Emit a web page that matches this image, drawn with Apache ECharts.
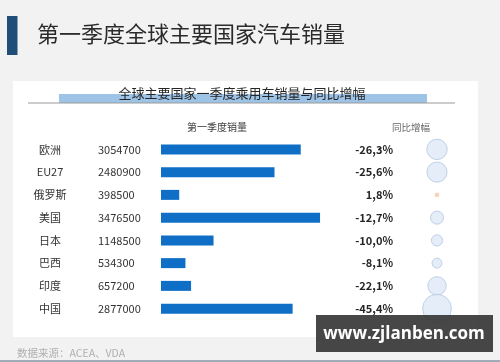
<!DOCTYPE html>
<html><head><meta charset="utf-8">
<script src="https://cdn.jsdelivr.net/npm/echarts@6/dist/echarts.min.js"></script>
<style>html,body{margin:0;padding:0;background:#f2f2f2}#c{width:500px;height:362px}</style>
</head><body><div id="c"></div>
<script>
const categories = ['欧洲','EU27','俄罗斯','美国','日本','巴西','印度','中国'];
const sales = [3054700,2480900,398500,3476500,1148500,534300,657200,2877000];
const growth = [-26.3,-25.6,1.8,-12.7,-10.0,-8.1,-22.1,-45.4];
const mainTitle = '第一季度全球主要国家汽车销量';
const chartTitle = '全球主要国家一季度乘用车销量与同比增幅';
const salesHeader = '第一季度销量';
const growthHeader = '同比增幅';
const sourceText = '数据来源：ACEA、VDA';
const watermark = 'www.zjlanben.com';

const FONT = '"Noto Sans CJK SC", "Noto Sans", sans-serif';
const fmtPct = v => v.toFixed(1).replace('.', ',') + '%';

const chart = echarts.init(document.getElementById('c'), null, {renderer: 'canvas'});
chart.setOption({
  backgroundColor: '#f2f2f2',
  animation: false,
  textStyle: {fontFamily: FONT},
  grid: [
    {left: 161, top: 138, width: 183, height: 182, containLabel: false},
    {left: 420, top: 138, width: 34, height: 182, containLabel: false}
  ],
  xAxis: [
    {type: 'value', gridIndex: 0, min: 0, max: 4000000, show: false},
    {type: 'value', gridIndex: 1, min: 0, max: 1, show: false}
  ],
  yAxis: [
    {type: 'category', gridIndex: 0, data: categories, inverse: true,
     axisLine: {show: false}, axisTick: {show: false}, splitLine: {show: false},
     axisLabel: {align: 'center', margin: 111, fontSize: 11, color: '#333', fontFamily: FONT}},
    {type: 'category', gridIndex: 1, data: categories, inverse: true,
     axisLine: {show: false}, axisTick: {show: false}, splitLine: {show: false},
     axisLabel: {align: 'right', margin: 27, fontSize: 11, fontWeight: 'bold', color: '#262626', fontFamily: FONT,
       formatter: (v, i) => fmtPct(growth[i])}}
  ],
  series: [
    {type: 'bar', xAxisIndex: 0, yAxisIndex: 0, data: sales, barWidth: 10,
     itemStyle: {color: '#0f6fc6'},
     label: {show: true, position: [-63, 5], align: 'left', verticalAlign: 'middle',
       fontSize: 11, color: '#333', fontFamily: FONT, formatter: p => String(sales[p.dataIndex])}},
    {type: 'scatter', xAxisIndex: 1, yAxisIndex: 1,
     data: growth.map((g, i) => ({
       value: [0.5, i],
       itemStyle: g >= 0 ? {color: '#f8cbad', borderColor: '#f4b183', borderWidth: 0.5}
                         : {color: '#dde9f6', borderColor: '#b4c7e2', borderWidth: 1}
     })),
     symbolSize: (v, p) => 2.7 * Math.pow(Math.abs(growth[p.dataIndex]), 0.62)}
  ],
  graphic: [
    {type: 'rect', z: -10, shape: {x: 7, y: 16, width: 10.5, height: 39}, style: {fill: '#1f4e79'}},
    {type: 'text', z: -10, x: 37, y: 34, style: {text: mainTitle, fontSize: 22, fontFamily: FONT, fill: '#2b2b2b', verticalAlign: 'middle', textAlign: 'left'}},
    {type: 'rect', z: -10, shape: {x: 13, y: 81, width: 465, height: 256}, style: {fill: '#ffffff'}},
    {type: 'rect', z: -9, shape: {x: 59, y: 94, width: 368, height: 9}, style: {fill: '#9dc3e6'}},
    {type: 'line', z: -9, shape: {x1: 28, y1: 103, x2: 455, y2: 103}, style: {stroke: '#9a9a9a', lineWidth: 1}},
    {type: 'text', z: -8, x: 242, y: 93, style: {text: chartTitle, fontSize: 13, fontFamily: FONT, fill: '#262626', textAlign: 'center', verticalAlign: 'middle'}},
    {type: 'text', z: -8, x: 217, y: 127, style: {text: salesHeader, fontSize: 10, fontFamily: FONT, fill: '#404040', textAlign: 'center', verticalAlign: 'middle'}},
    {type: 'text', z: -8, x: 411, y: 127, style: {text: growthHeader, fontSize: 9.5, fontFamily: FONT, fill: '#666', textAlign: 'center', verticalAlign: 'middle'}},
    {type: 'text', z: -8, x: 17, y: 353.5, style: {text: sourceText, fontSize: 10.5, fontFamily: FONT, fill: '#b0b0b0', textAlign: 'left', verticalAlign: 'middle'}},
    {type: 'line', z: -8, shape: {x1: 0, y1: 361, x2: 500, y2: 361}, style: {stroke: '#a4abb8', lineWidth: 2}},
    {type: 'rect', z: 100, shape: {x: 316, y: 315, width: 177, height: 37}, style: {fill: 'rgba(55,55,55,0.92)'}},
    {type: 'text', z: 101, x: 404, y: 334, style: {text: watermark, fontSize: 17, fontWeight: 'bold', fontFamily: '"Open Sans", "DejaVu Sans", sans-serif', fill: '#ffffff', textAlign: 'center', verticalAlign: 'middle'}}
  ]
});
</script></body></html>
